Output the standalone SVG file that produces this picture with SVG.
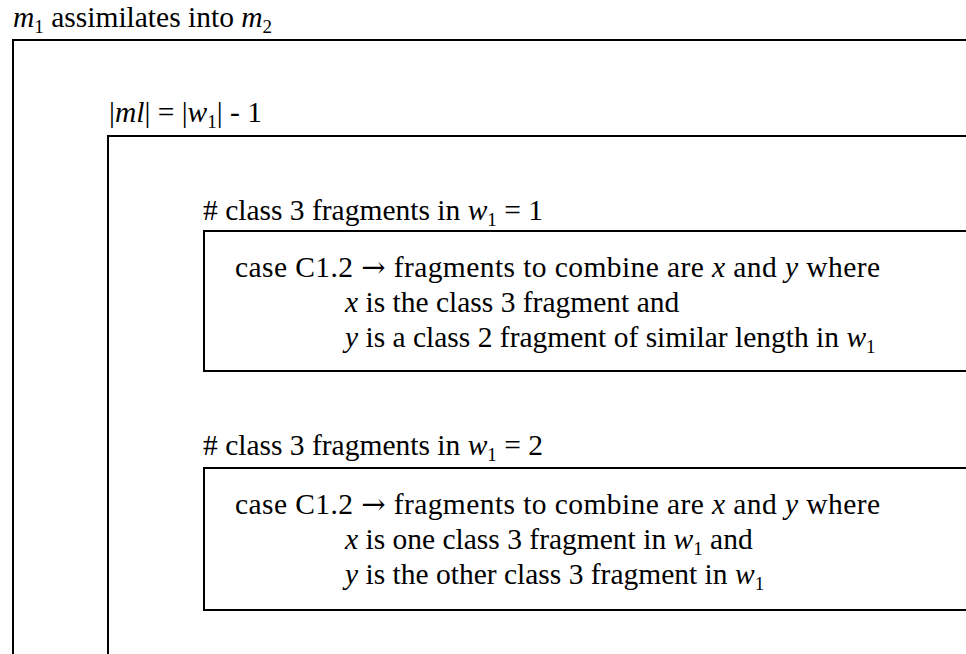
<svg xmlns="http://www.w3.org/2000/svg" width="966" height="654" viewBox="0 0 966 654">
<style>
  text { font-family: "Liberation Serif", "Times New Roman", serif; font-size: 29.5px; fill: #000; }
  .i { font-style: italic; }
  .sub { font-size: 19px; font-style: normal; }
  .arr { font-family: "DejaVu Serif", serif; font-size: 29px; }
  .box { fill: none; stroke: #000; stroke-width: 2; }
</style>
<rect width="966" height="654" fill="#fff"/>
<g id="outer">
  <rect class="box" x="13" y="40" width="1000" height="700"/>
  <text x="13" y="27"><tspan class="i">m</tspan><tspan class="sub" dy="6">1</tspan><tspan dy="-6"> assimilates into </tspan><tspan class="i">m</tspan><tspan class="sub" dy="6">2</tspan></text>
</g>
<g id="ml-size">
  <rect class="box" x="108" y="136" width="900" height="600"/>
  <text x="109" y="122">|<tspan class="i">ml</tspan>| = |<tspan class="i">w</tspan><tspan class="sub" dy="6">1</tspan><tspan dy="-6">| - 1</tspan></text>
</g>
<g id="case-one-fragment">
  <rect class="box" x="204" y="231" width="800" height="140"/>
  <text x="203" y="220"># class 3 fragments in <tspan class="i">w</tspan><tspan class="sub" dy="6">1</tspan><tspan dy="-6"> = 1</tspan></text>
  <text x="235" y="277" textLength="645" lengthAdjust="spacing">case C1.2 <tspan class="arr">→</tspan> fragments to combine are <tspan class="i">x</tspan> and <tspan class="i">y</tspan> where</text>
  <text x="345" y="312"><tspan class="i">x</tspan> is the class 3 fragment and</text>
  <text x="345" y="347"><tspan class="i">y</tspan> is a class 2 fragment of similar length in <tspan class="i">w</tspan><tspan class="sub" dy="6">1</tspan></text>
</g>
<g id="case-two-fragments">
  <rect class="box" x="204" y="468" width="800" height="142"/>
  <text x="203" y="455"># class 3 fragments in <tspan class="i">w</tspan><tspan class="sub" dy="6">1</tspan><tspan dy="-6"> = 2</tspan></text>
  <text x="235" y="514" textLength="645" lengthAdjust="spacing">case C1.2 <tspan class="arr">→</tspan> fragments to combine are <tspan class="i">x</tspan> and <tspan class="i">y</tspan> where</text>
  <text x="345" y="549"><tspan class="i">x</tspan> is one class 3 fragment in <tspan class="i">w</tspan><tspan class="sub" dy="6">1</tspan><tspan dy="-6"> and</tspan></text>
  <text x="345" y="584"><tspan class="i">y</tspan> is the other class 3 fragment in <tspan class="i">w</tspan><tspan class="sub" dy="6">1</tspan></text>
</g>
<g id="connectors"></g>
</svg>
